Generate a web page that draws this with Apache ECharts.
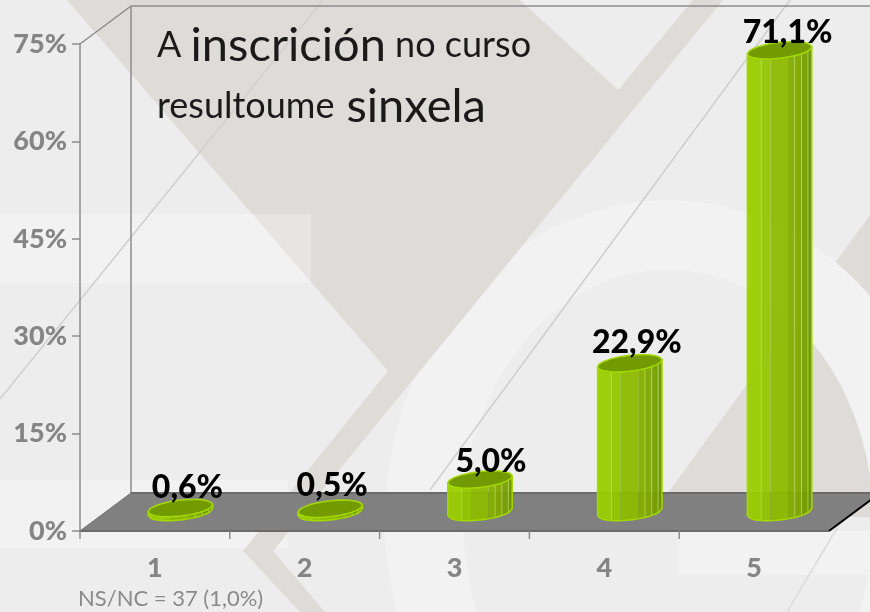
<!DOCTYPE html>
<html><head><meta charset="utf-8">
<style>html,body{margin:0;padding:0;background:#ededed}#c{width:870px;height:612px}</style>
<script src="https://cdn.jsdelivr.net/npm/echarts@6/dist/echarts.min.js"></script>
</head><body><div id="c"></div>
<script>
const categories = ['1','2','3','4','5'];
const shares = [0.6, 0.5, 5.0, 22.9, 71.1];
const axisMax = 75;
const axisStep = 15;
const footnote = 'NS/NC = 37 (1,0%)';

const font = 'Lato, "Open Sans", sans-serif';
const depthX = 51, depthY = -38;
const C = {base:'#ededed', light:'#f2f2f2', dark:'#dddcd9', line:'#d0d0d0', axis:'#8c8c8c', label:'#858585'};

function ringPoints(cx, cy, rx1, ry1, rx2, ry2){
  const pts = [];
  for (let i=0;i<=120;i++){const a=i/120*2*Math.PI; pts.push([cx+rx1*Math.cos(a),cy+ry1*Math.sin(a)]);}
  for (let i=120;i>=0;i--){const a=i/120*2*Math.PI; pts.push([cx+rx2*Math.cos(a),cy+ry2*Math.sin(a)]);}
  return pts;
}
const poly = (points, fill) => ({type:'polygon', z:-10, silent:true, shape:{points}, style:{fill}});
const rect = (x,y,width,height,fill) => ({type:'rect', z:-10, silent:true, shape:{x,y,width,height}, style:{fill}});
const dline = (x1,y1,x2,y2,stroke) => ({type:'line', z:-10, silent:true, shape:{x1,y1,x2,y2}, style:{stroke:stroke||C.line, lineWidth:1.6}});

const backdrop = [
  rect(0,0,870,612,C.base),
  rect(0,480,288,68,C.light),
  poly([[668,493],[870,215],[870,517],[668,517]],C.dark),
  poly(ringPoints(668,520,283,320,205,250),C.light),
  rect(678,531,192,44,C.light),
  poly([[67,0],[520,0],[618,90],[693,0],[723,0],[273,551],[325,612],[300,612],[243,551],[388,371]],C.dark),
  rect(0,214,311,69,'rgba(255,255,255,0.28)'),
  dline(323,0,0,399),
  dline(790,0,430,490),
  dline(870,473,787,612,'#dcdcdc')
];

const facetStops = [0,.215,.36,.63,.735,.84,.94,1];
const facetFill = ['#9acc00','#94c600','#8dbb00','#84ae00','#7ea700','#779f00','#6e9300'];
const seams = [1,4,5,6];
// small per-label placement corrections, in category order
const labelShiftX = [1,-4,5,1,2];
const labelShiftY = [2,-1,4,1,4];

function cylinder(params, api){
  const i = api.value(0), v = api.value(1);
  const base = api.coord([i,0]), top = api.coord([i,v]);
  const a = api.size([1,0])[0]*0.215;
  const cx = base[0]+depthX/2, by = base[1]+depthY/2, ty = top[1]+depthY/2;
  const b = 8, k = 3.5;
  const rim = (f, y) => {const c=2*f-1, t=Math.acos(c); return [cx+a*c, y+b*Math.sin(t)-k*c];};
  const children = [];
  const steps = 3;
  facetFill.forEach((fill,n)=>{
    const f0=facetStops[n], f1=facetStops[n+1], pts=[];
    for(let s=0;s<=steps;s++) pts.push(rim(f0+(f1-f0)*s/steps,by));
    for(let s=steps;s>=0;s--) pts.push(rim(f0+(f1-f0)*s/steps,ty));
    children.push({type:'polygon',shape:{points:pts},style:{fill,opacity:.95}});
  });
  seams.forEach(n=>{
    const p0=rim(facetStops[n],by), p1=rim(facetStops[n],ty);
    children.push({type:'line',shape:{x1:p0[0],y1:p0[1],x2:p1[0],y2:p1[1]},style:{stroke:'#b9dc5a',lineWidth:1,opacity:.75}});
  });
  const outline=[];
  for(let s=0;s<=24;s++) outline.push(rim(s/24,by));
  outline.push([cx+a,ty-k]); outline.push([cx-a,ty+k]);
  children.push({type:'polygon',shape:{points:outline},style:{fill:'none',stroke:'#a3d900',lineWidth:1.5}});
  const lid=[]; const N=20;
  for(let s=0;s<N;s++){const t=s/N*2*Math.PI; lid.push([cx+a*Math.cos(t), ty+b*Math.sin(t)-k*Math.cos(t)]);}
  children.push({type:'polygon',shape:{points:lid},style:{fill:'#739a00',stroke:'#a3d900',lineWidth:1.5}});
  children.push({type:'text',z2:10,style:{x:cx+6+labelShiftX[i],y:ty-22+labelShiftY[i],text:v.toFixed(1).replace('.',',')+'%',fill:'#000',
    font:'900 32px '+font,textAlign:'center',textVerticalAlign:'middle'}});
  return {type:'group',children};
}

function frame(params, api){
  const half = api.size([1,0])[0]/2, n = categories.length;
  const c0 = api.coord([0,0]), cn = api.coord([n-1,0]), ct = api.coord([0,axisMax]);
  const o = [c0[0]-half,c0[1]], e = [cn[0]+half,cn[1]], t = [c0[0]-half,ct[1]];
  const s = {stroke:C.axis, lineWidth:1.5};
  const L = (a,b,style)=>({type:'line',shape:{x1:a[0],y1:a[1],x2:b[0],y2:b[1]},style:style||s});
  const d = p=>[p[0]+depthX,p[1]+depthY];
  const ticks = categories.map((_,i)=>{const p=api.coord([i,0]); return L([p[0]-half,p[1]],[p[0]-half,p[1]+8]);});
  return {type:'group',children:[
    L(d(t),d(o)), L(t,d(t)), L(d(t),[d(e)[0],d(t)[1]]),
    {type:'polygon',shape:{points:[o,d(o),d(e),e]},style:{fill:'#808080'}},
    L(d(o),d(e),{stroke:'#6b6b6b',lineWidth:2}),
    L(o,e,{stroke:'#6b6b6b',lineWidth:2}),
    L(o,d(o),{stroke:'#6f6f6f',lineWidth:1}),
    L(e,d(e),{stroke:'#000',lineWidth:2})
  ].concat(ticks)};
}

const chart = echarts.init(document.getElementById('c'), null, {renderer:'canvas'});
chart.setOption({
  animation:false,
  backgroundColor:C.base,
  title:{
    left:157, top:15, padding:0,
    text:'{a|A }{b|inscrición}{a| no curso}\n{a|resultoume}{b| sinxela}',
    textStyle:{fontFamily:font,fontWeight:'normal',rich:{
      a:{fontFamily:font,fontWeight:'normal',fontSize:36,color:'#1a1a1a',lineHeight:61},
      b:{fontFamily:font,fontWeight:'normal',fontSize:47,color:'#1a1a1a',lineHeight:61}
    }}
  },
  grid:{left:80,right:41,top:44,bottom:81},
  xAxis:{type:'category',data:categories,boundaryGap:true,
    axisLine:{show:false},
    axisTick:{show:false},
    axisLabel:{color:C.label,fontFamily:font,fontWeight:900,fontSize:27,margin:24},
    splitLine:{show:false}},
  yAxis:{type:'value',min:0,max:axisMax,interval:axisStep,
    axisLine:{show:true,lineStyle:{color:C.axis,width:1.5}},
    axisTick:{show:true,length:8,lineStyle:{color:C.axis,width:1.5}},
    axisLabel:{color:C.label,fontFamily:font,fontWeight:900,fontSize:27,margin:13,formatter:'{value}%'},
    splitLine:{show:false}},
  graphic:{elements:backdrop.concat([
    {type:'text',z:5,silent:true,style:{x:78,y:599,text:footnote,fill:'#8a8a8a',font:'22px '+font,textVerticalAlign:'middle'}}
  ])},
  series:[
    {type:'custom',z:1,silent:true,renderItem:frame,data:[[0]],encode:{x:0},clip:false},
    {type:'custom',z:2,silent:true,renderItem:cylinder,data:shares.map((v,i)=>[i,v]),encode:{x:0,y:1},clip:false}
  ]
});
</script></body></html>
